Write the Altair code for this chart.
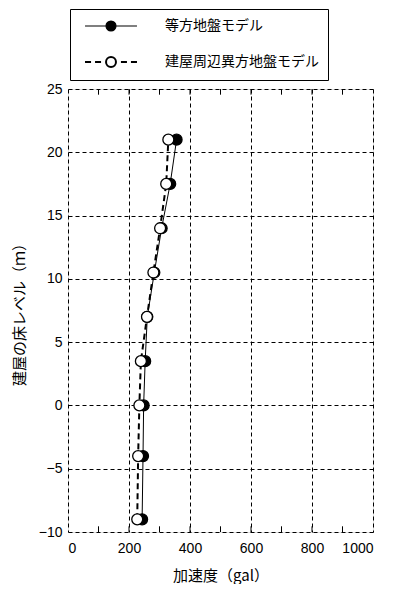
import altair as alt
import pandas as pd

levels = [21, 17.5, 14, 10.5, 7, 3.5, 0, -4, -9]
iso_acc = [356, 335, 307, 283, 260, 253, 248, 246, 243]
aniso_acc = [329, 322, 302, 280, 259, 239, 234, 230, 227]
series_names = ["等方地盤モデル", "建屋周辺異方地盤モデル"]
x_label_values = [0, 200, 400, 600, 800, 1000]
x_minor_ticks = [100, 200, 300, 400, 500, 600, 700, 800, 900]
y_label_values = [-10, -5, 0, 5, 10, 15, 20, 25]

rows = []
for name, accs in zip(series_names, [iso_acc, aniso_acc]):
    for lv, a in zip(levels, accs):
        rows.append({"series": name, "level": lv, "acc": a})
df = pd.DataFrame(rows)

tick_rows = []
for t in x_minor_ticks:
    tick_rows.append({"x": t, "y0": -10, "y1": -9.55})
    tick_rows.append({"x": t, "y0": 25, "y1": 24.55})
ticks_df = pd.DataFrame(tick_rows)

JP = "Noto Sans CJK JP"
NUM = "Liberation Sans"

xs = alt.Scale(domain=[0, 1000], nice=False, zero=False)
ys = alt.Scale(domain=[-10, 25], nice=False, zero=False)

x_axis = alt.Axis(values=x_label_values, format="d", grid=True, gridDash=[4, 3], gridColor="black",
                  gridWidth=1, gridOpacity=1, domain=False, ticks=False,
                  labelFont=NUM, labelFontSize=14, labelColor="black", labelPadding=9,
                  title="加速度（gal）", titleFont=JP, titleFontSize=15,
                  titleFontWeight="normal", titleColor="black", titlePadding=13)
y_axis = alt.Axis(values=y_label_values, format="d", grid=True, gridDash=[4, 3], gridColor="black",
                  gridWidth=1, gridOpacity=1, domain=False, ticks=False,
                  labelFont=NUM, labelFontSize=14, labelColor="black", labelPadding=6,
                  title="建屋の床レベル（ｍ）", titleFont=JP, titleFontSize=15,
                  titleFontWeight="normal", titleColor="black", titlePadding=11)

# legend symbols: unit = 7 px (symbolSize 196)
r = 0.71
circle = f"M{-r},0A{r},{r} 0 1,0 {r},0A{r},{r} 0 1,0 {-r},0Z"
sym_solid = f"M-3.71,0H{-r}M{r},0H3.71" + circle
sym_dashed = "M-3.71,0H-2.85M-2.28,0H-1.42M1.42,0H2.28M2.85,0H3.71" + circle

iso_name, aniso_name = series_names

base = alt.Chart(df)

grid_layer = base.mark_line(opacity=0).encode(
    x=alt.X("acc:Q", scale=xs, axis=x_axis),
    y=alt.Y("level:Q", scale=ys, axis=y_axis),
)

line_iso = base.transform_filter(alt.datum.series == iso_name).mark_line(
    color="black", strokeWidth=1).encode(
    x=alt.X("acc:Q", scale=xs), y=alt.Y("level:Q", scale=ys), order=alt.Order("level:Q"))
line_aniso = base.transform_filter(alt.datum.series == aniso_name).mark_line(
    color="black", strokeWidth=2, strokeDash=[6, 4]).encode(
    x=alt.X("acc:Q", scale=xs), y=alt.Y("level:Q", scale=ys), order=alt.Order("level:Q"))

pt_iso = base.transform_filter(alt.datum.series == iso_name).mark_point(
    shape="circle", filled=True, fill="black", stroke="black", strokeWidth=1.3, size=120, opacity=1).encode(
    x=alt.X("acc:Q", scale=xs), y=alt.Y("level:Q", scale=ys))
pt_aniso = base.transform_filter(alt.datum.series == aniso_name).mark_point(
    shape="circle", filled=True, fill="white", stroke="black", strokeWidth=1.3, size=120, opacity=1).encode(
    x=alt.X("acc:Q", scale=xs), y=alt.Y("level:Q", scale=ys))

legend = alt.Legend(orient="none", legendX=2, legendY=-80, title=None, direction="vertical",
                    strokeColor="black", fillColor="white", padding=9, cornerRadius=0,
                    symbolSize=196, symbolOpacity=1, symbolOffset=24,
                    labelFont=JP, labelFontSize=14, labelColor="black", labelLimit=400,
                    labelOffset=46, rowPadding=19)

legend_layer = base.mark_point(filled=True, opacity=0).encode(
    x=alt.X("acc:Q", scale=xs),
    y=alt.Y("level:Q", scale=ys),
    fill=alt.Fill("series:N", scale=alt.Scale(domain=series_names, range=["black", "white"]), legend=legend),
    stroke=alt.Stroke("series:N", scale=alt.Scale(domain=series_names, range=["black", "black"]), legend=legend),
    shape=alt.Shape("series:N", scale=alt.Scale(domain=series_names, range=[sym_solid, sym_dashed]), legend=legend),
    strokeWidth=alt.StrokeWidth("series:N", scale=alt.Scale(domain=series_names, range=[1.2, 2]), legend=legend),
)

inner_ticks = alt.Chart(ticks_df).mark_rule(color="black", strokeWidth=1).encode(
    x=alt.X("x:Q", scale=xs),
    y=alt.Y("y0:Q", scale=ys),
    y2="y1:Q",
)

chart = alt.layer(grid_layer, inner_ticks, line_iso, line_aniso, pt_iso, pt_aniso, legend_layer).properties(
    width=305, height=443,
    autosize=alt.AutoSizeParams(type="none"),
    padding={"left": 60, "top": 81, "right": 14, "bottom": 52},
).configure_view(stroke="black", strokeWidth=1.5).configure(background="white")

chart.save("out.html", embed_options={"renderer": "svg", "actions": False})
